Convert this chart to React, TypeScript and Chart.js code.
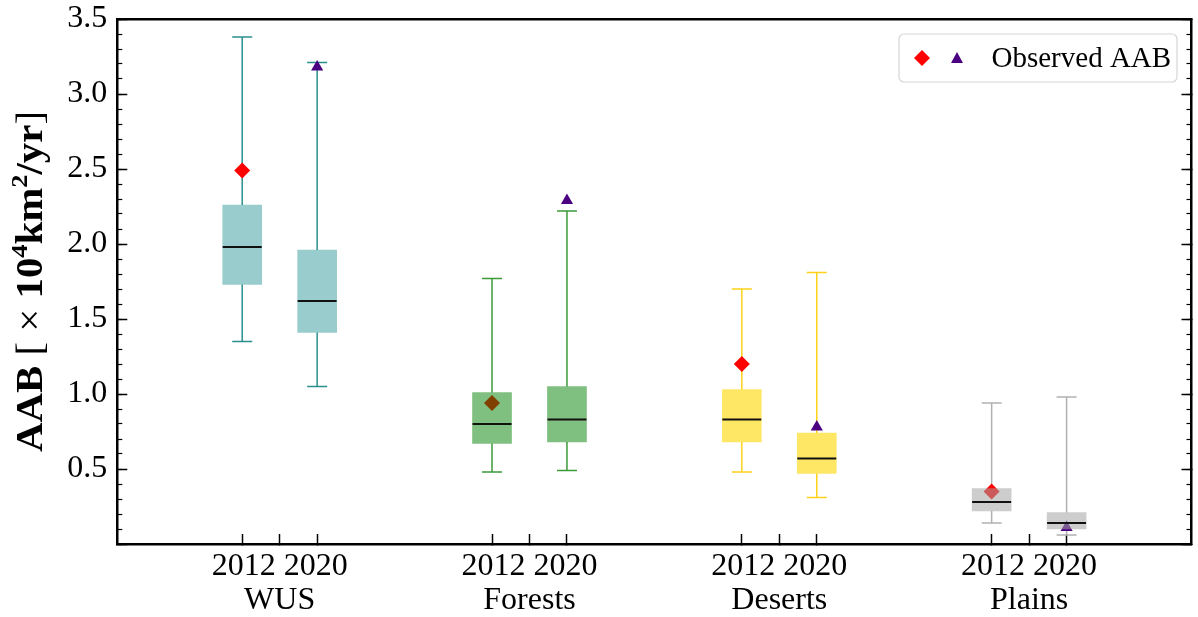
import React, { useEffect, useRef } from 'react';
import { Chart, registerables } from 'chart.js';

Chart.register(...registerables);

// ---------- data ----------
const categories = ['WUS', 'Forests', 'Deserts', 'Plains'];
const years = ['2012', '2020'];
// order: WUS 2012, WUS 2020, Forests 2012, Forests 2020, Deserts 2012, Deserts 2020, Plains 2012, Plains 2020
const whiskerLow = [1.35, 1.05, 0.48, 0.49, 0.48, 0.31, 0.14, 0.06];
const quartile1 = [1.73, 1.41, 0.67, 0.68, 0.68, 0.47, 0.22, 0.10];
const medians = [1.98, 1.62, 0.80, 0.83, 0.83, 0.57, 0.28, 0.14];
const quartile3 = [2.26, 1.96, 1.01, 1.05, 1.03, 0.74, 0.37, 0.21];
const whiskerHigh = [3.38, 3.21, 1.77, 2.22, 1.70, 1.81, 0.94, 0.98];
const observed2012 = [2.49, 0.94, 1.20, 0.35];
const observed2020 = [3.18, 2.29, 0.78, 0.11];
const yTickValues = [0, 0.5, 1.0, 1.5, 2.0, 2.5, 3.0, 3.5];
const legendLabel = 'Observed AAB';

const boxFill = ['rgba(0,128,128,0.4)', 'rgba(0,128,0,0.5)', 'rgba(255,215,0,0.6)', 'rgba(164,164,164,0.55)'];
const whiskerColor = ['#2a8f8f', '#3a9a3a', '#ffd21a', '#b0b0b0'];
const diamondColor = '#ff0000';
const triangleColor = '#4b0082';

const FONT = '"Liberation Serif", "Times New Roman", serif';

const yTitlePlugin = {
  id: 'yTitle',
  afterDraw(chart: any) {
    const ctx = chart.ctx as CanvasRenderingContext2D;
    const ca = chart.chartArea;
    const big = 37;
    const small = 24;
    const segs: [string, string, number, number][] = [
      ['AAB', 'bold', big, 0],
      [' [ ', 'normal', big, 0],
      ['\u00d7', 'normal', big, 0],
      [' 10', 'bold', big, 0],
      ['4', 'bold', small, 15],
      ['km', 'bold', big, 0],
      ['2', 'bold', small, 15],
      ['/yr', 'bold', big, 0],
      [']', 'normal', big, 0],
    ];
    ctx.save();
    let total = 0;
    const widths: number[] = [];
    segs.forEach(([t, w, s]) => {
      ctx.font = `${w} ${s}px ${FONT}`;
      const m = ctx.measureText(t).width;
      widths.push(m);
      total += m;
    });
    const targetLen = 341;
    const sx = targetLen / total;
    ctx.translate(29, (ca.top + ca.bottom) / 2);
    ctx.rotate(-Math.PI / 2);
    ctx.scale(sx, 1);
    ctx.fillStyle = '#000';
    ctx.textBaseline = 'alphabetic';
    ctx.textAlign = 'left';
    let x = -total / 2;
    segs.forEach(([t, w, s, raise], i) => {
      ctx.font = `${w} ${s}px ${FONT}`;
      ctx.fillText(t, x, 12.5 - raise);
      x += widths[i];
    });
    ctx.restore();
  },
};

const legendPlugin = {
  id: 'innerLegend',
  afterDraw(chart: any) {
    const ctx = chart.ctx as CanvasRenderingContext2D;
    const ca = chart.chartArea;
    const w = 278;
    const h = 48;
    const x = ca.right - 14.5 - w;
    const y = ca.top + 15;
    ctx.save();
    ctx.beginPath();
    const r = 5;
    ctx.moveTo(x + r, y);
    ctx.lineTo(x + w - r, y);
    ctx.arcTo(x + w, y, x + w, y + r, r);
    ctx.lineTo(x + w, y + h - r);
    ctx.arcTo(x + w, y + h, x + w - r, y + h, r);
    ctx.lineTo(x + r, y + h);
    ctx.arcTo(x, y + h, x, y + h - r, r);
    ctx.lineTo(x, y + r);
    ctx.arcTo(x, y, x + r, y, r);
    ctx.closePath();
    ctx.fillStyle = 'rgba(255,255,255,0.8)';
    ctx.fill();
    ctx.strokeStyle = '#d6d6d6';
    ctx.lineWidth = 1.2;
    ctx.stroke();
    const cy = y + h / 2;
    const dx = x + 23;
    ctx.beginPath();
    ctx.moveTo(dx, cy - 8);
    ctx.lineTo(dx + 8, cy);
    ctx.lineTo(dx, cy + 8);
    ctx.lineTo(dx - 8, cy);
    ctx.closePath();
    ctx.fillStyle = diamondColor;
    ctx.fill();
    const tx = x + 58;
    ctx.beginPath();
    ctx.moveTo(tx, cy - 6);
    ctx.lineTo(tx + 6, cy + 5);
    ctx.lineTo(tx - 6, cy + 5);
    ctx.closePath();
    ctx.fillStyle = triangleColor;
    ctx.fill();
    ctx.fillStyle = '#000';
    ctx.font = `29px ${FONT}`;
    ctx.textBaseline = 'middle';
    ctx.textAlign = 'left';
    ctx.fillText(legendLabel, x + 92.5, cy + 1);
    ctx.restore();
  },
};

const zeroPad = (s: any) => {
  s.paddingTop = 0;
  s.paddingBottom = 0;
  s.paddingLeft = 0;
  s.paddingRight = 0;
};

export default function App() {
  const ref = useRef<HTMLCanvasElement>(null);

  useEffect(() => {
    if (!ref.current) return;
    const offset = 0.15;
    const positions: number[] = [];
    categories.forEach((_, ci) => {
      years.forEach((_, yi) => positions.push(ci + 1 + (yi === 0 ? -offset : offset)));
    });
    const xTicks: number[] = [];
    categories.forEach((_, ci) => {
      xTicks.push(ci + 1 - offset, ci + 1, ci + 1 + offset);
    });
    const minorTicks: number[] = [];
    for (let i = 0; i <= 35; i++) minorTicks.push(i / 10);

    const datasets: any[] = [];
    datasets.push({
      type: 'bar',
      label: 'boxes',
      data: positions.map((p, k) => ({ x: p, y: [quartile1[k], quartile3[k]] })),
      backgroundColor: positions.map((_, k) => boxFill[Math.floor(k / 2)]),
      borderWidth: 0,
      barThickness: 39,
      order: 2,
    });
    datasets.push({
      type: 'scatter',
      label: 'medians',
      data: positions.map((p, k) => ({ x: p, y: medians[k] })),
      pointStyle: 'line',
      pointRadius: 19.5,
      pointBorderColor: '#111',
      pointBorderWidth: 2,
      order: 1,
    });
    categories.forEach((_, ci) => {
      const ks = [ci * 2, ci * 2 + 1];
      const wd: any[] = [];
      ks.forEach((k) => {
        const p = positions[k];
        wd.push(
          { x: p, y: whiskerLow[k] },
          { x: p, y: quartile1[k] },
          { x: p, y: null },
          { x: p, y: quartile3[k] },
          { x: p, y: whiskerHigh[k] },
          { x: p, y: null }
        );
      });
      datasets.push({
        type: 'line',
        label: 'whiskers',
        data: wd,
        borderColor: whiskerColor[ci],
        borderWidth: 1.5,
        pointRadius: 0,
        spanGaps: false,
        tension: 0,
        order: 3,
      });
      datasets.push({
        type: 'scatter',
        label: 'caps',
        data: ks.flatMap((k) => [
          { x: positions[k], y: whiskerLow[k] },
          { x: positions[k], y: whiskerHigh[k] },
        ]),
        pointStyle: 'line',
        pointRadius: 10,
        pointBorderColor: whiskerColor[ci],
        pointBorderWidth: 1.5,
        order: 3,
      });
    });
    datasets.push({
      type: 'scatter',
      label: 'obs2012',
      data: categories.map((_, ci) => ({ x: positions[ci * 2], y: observed2012[ci] })),
      pointStyle: 'rectRot',
      pointRadius: 8,
      pointBackgroundColor: diamondColor,
      pointBorderWidth: 0,
      order: 2.5,
    });
    datasets.push({
      type: 'scatter',
      label: 'obs2020',
      data: categories.map((_, ci) => ({ x: positions[ci * 2 + 1], y: observed2020[ci] })),
      pointStyle: 'triangle',
      pointRadius: 7,
      pointBackgroundColor: triangleColor,
      pointBorderWidth: 0,
      order: 2.5,
    });

    const tickFont = { family: FONT, size: 32, lineHeight: 1.08 };

    const chart = new Chart(ref.current, {
      type: 'bar',
      data: { datasets },
      plugins: [yTitlePlugin, legendPlugin],
      options: {
        animation: false,
        responsive: true,
        maintainAspectRatio: false,
        events: [],
        layout: { autoPadding: false, padding: { left: 0, top: 19, right: 6.5, bottom: 0 } },
        plugins: { legend: { display: false }, tooltip: { enabled: false } },
        scales: {
          x: {
            type: 'linear',
            position: 'bottom',
            min: 0.35,
            max: 4.65,
            offset: false,
            afterBuildTicks: (s: any) => {
              s.ticks = xTicks.map((v) => ({ value: v }));
            },
            ticks: {
              autoSkip: false,
              maxRotation: 0,
              minRotation: 0,
              padding: 15,
              color: '#000',
              font: tickFont,
              callback: (_v: any, i: number) =>
                i % 3 === 1 ? [years.join(' '), categories[(i - 1) / 3]] : '',
            },
            grid: { offset: false, drawOnChartArea: false, drawTicks: true, tickLength: -10, tickWidth: 1.5, tickColor: '#000' },
            border: { display: true, color: '#000', width: 2.5 },
            afterFit: (s: any) => {
              s.height = 73;
              zeroPad(s);
            },
          },
          xTop: {
            type: 'linear',
            position: 'top',
            min: 0.35,
            max: 4.65,
            offset: false,
            ticks: { display: false },
            grid: { offset: false, drawOnChartArea: false, drawTicks: false },
            border: { display: true, color: '#000', width: 2.5 },
            afterFit: (s: any) => {
              s.height = 0;
              zeroPad(s);
            },
          },
          y: {
            type: 'linear',
            position: 'left',
            min: 0,
            max: 3.5,
            weight: 1,
            afterBuildTicks: (s: any) => {
              s.ticks = yTickValues.map((v) => ({ value: v }));
            },
            ticks: {
              padding: 20,
              color: '#000',
              font: tickFont,
              callback: (v: any) => (Number(v) === 0 ? '' : Number(v).toFixed(1)),
            },
            grid: { drawOnChartArea: false, tickLength: -10, tickWidth: 1.5, tickColor: '#000' },
            border: { display: true, color: '#000', width: 2.5 },
            afterFit: (s: any) => {
              s.width = 117.3;
              zeroPad(s);
            },
          },
          yMinor: {
            type: 'linear',
            position: 'left',
            min: 0,
            max: 3.5,
            weight: 0,
            afterBuildTicks: (s: any) => {
              s.ticks = minorTicks.map((v) => ({ value: v }));
            },
            ticks: { display: false },
            grid: { drawOnChartArea: false, tickLength: -5, tickWidth: 1.2, tickColor: '#000' },
            border: { display: false },
            afterFit: (s: any) => {
              s.width = 0;
              zeroPad(s);
            },
          },
          yR: {
            type: 'linear',
            position: 'right',
            min: 0,
            max: 3.5,
            weight: 1,
            afterBuildTicks: (s: any) => {
              s.ticks = yTickValues.map((v) => ({ value: v }));
            },
            ticks: { display: false },
            grid: { drawOnChartArea: false, tickLength: -10, tickWidth: 1.5, tickColor: '#000' },
            border: { display: true, color: '#000', width: 2.5 },
            afterFit: (s: any) => {
              s.width = 0;
              zeroPad(s);
            },
          },
          yRMinor: {
            type: 'linear',
            position: 'right',
            min: 0,
            max: 3.5,
            weight: 0,
            afterBuildTicks: (s: any) => {
              s.ticks = minorTicks.map((v) => ({ value: v }));
            },
            ticks: { display: false },
            grid: { drawOnChartArea: false, tickLength: -5, tickWidth: 1.2, tickColor: '#000' },
            border: { display: false },
            afterFit: (s: any) => {
              s.width = 0;
              zeroPad(s);
            },
          },
        },
      } as any,
    });
    return () => chart.destroy();
  }, []);

  return (
    <div style={{ position: 'absolute', left: 0, top: 0, width: 1198, height: 617, background: '#fff' }}>
      <canvas ref={ref} />
    </div>
  );
}
